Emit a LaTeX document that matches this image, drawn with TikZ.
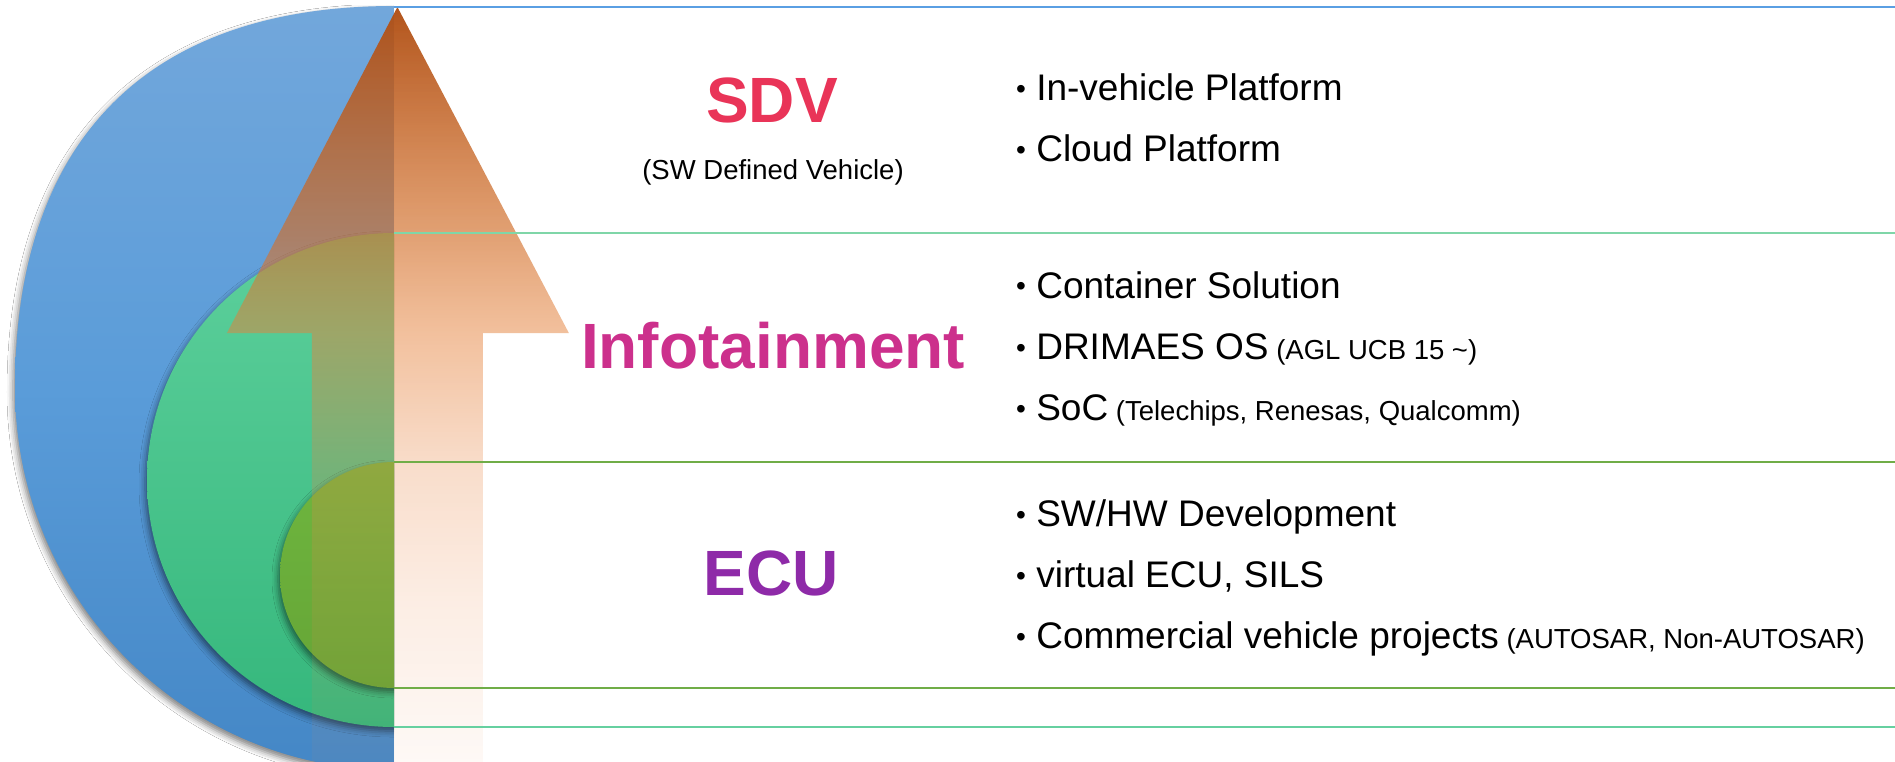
\documentclass[tikz,border=0pt]{standalone}
\usepackage{fontspec}
\setmainfont{Liberation Sans}
\usetikzlibrary{fadings,shadows.blur}

\definecolor{blueTop}{HTML}{72A7DB}
\definecolor{blueMid}{HTML}{5A9CD9}
\definecolor{blueBot}{HTML}{4487C6}
\definecolor{greenTop}{HTML}{5DD09C}
\definecolor{greenBot}{HTML}{35B77C}
\definecolor{oliveTop}{HTML}{6EB63F}
\definecolor{oliveBot}{HTML}{66A536}
\definecolor{sdvred}{HTML}{E93458}
\definecolor{infomag}{HTML}{CC308C}
\definecolor{ecupurple}{HTML}{8E2AA8}
\definecolor{lineblue}{HTML}{5A9FE3}
\definecolor{linemint}{HTML}{7FD6A8}
\definecolor{linegreen}{HTML}{70AD47}
\definecolor{lineteal}{HTML}{66D0A0}

% colour and opacity ramps of the big arrow (bottom to top)
\pgfdeclareverticalshading{arrowcol}{100bp}{%
  rgb(0bp)=(0.94,0.56,0.33); rgb(25bp)=(0.94,0.56,0.33);
  rgb(53.4bp)=(0.90,0.51,0.235); rgb(60bp)=(0.824,0.431,0.157);
  rgb(75bp)=(0.69,0.31,0.08); rgb(100bp)=(0.69,0.31,0.08)}
\pgfdeclareverticalshading{arrowalpha}{100bp}{%
  gray(0bp)=(0.05); gray(25bp)=(0.05); gray(35.7bp)=(0.15);
  gray(44.3bp)=(0.27); gray(53.4bp)=(0.50); gray(60bp)=(0.65);
  gray(75bp)=(0.97); gray(100bp)=(0.97)}
\pgfdeclarefading{arrowfade}{\pgfuseshading{arrowalpha}}

\newcommand\smalltxt[1]{{\fontsize{27.5}{30}\selectfont #1}}
\newcommand\itembullet{{\fontsize{28}{30}\selectfont\raisebox{2pt}{\textbullet}}}

\begin{document}
\begin{tikzpicture}[x=1pt,y=-1pt,
  disc/.style={blur shadow={shadow xshift=-2pt,shadow yshift=-4pt,
      shadow blur radius=6pt,shadow opacity=50}},
  band/.style={line width=2pt},
  title/.style={anchor=base,inner sep=0pt,font=\fontsize{64}{64}\selectfont\bfseries},
  subtitle/.style={anchor=base,inner sep=0pt,font=\fontsize{27.5}{30}\selectfont},
  item/.style={anchor=base west,inner sep=0pt,font=\fontsize{37}{40}\selectfont}]

\useasboundingbox (0,0) rectangle (1895,762);
\fill[white] (0,0) rectangle (1895,762);

% nested half discs
\begin{scope}
  \clip (0,6) rectangle (394,762);
  \path[disc,top color=blueTop,bottom color=blueBot,middle color=blueMid]
    (394,6) .. controls (147.6,6) and (15,139.7) .. (15,388)
    .. controls (15,599) and (184.7,770) .. (394,770) -- cycle;
  \path[disc,top color=greenTop,bottom color=greenBot]
    (394,480) ellipse [x radius=247pt,y radius=247pt];
  \path[disc,top color=oliveTop,bottom color=oliveBot]
    (394,575) ellipse [x radius=114pt,y radius=113pt];
\end{scope}

% rising arrow
\shade[shading=arrowcol,path fading=arrowfade]
  (397.5,7) -- (569,333) -- (483,333) -- (483,762) -- (312,762)
  -- (312,333) -- (227,333) -- cycle;

% band separators
\coordinate (r0a) at (394,7);   \coordinate (r0b) at (1895,7);
\coordinate (r1a) at (394,233); \coordinate (r1b) at (1895,233);
\coordinate (r2a) at (394,462); \coordinate (r2b) at (1895,462);
\coordinate (r3a) at (394,688); \coordinate (r3b) at (1895,688);
\coordinate (r4a) at (394,727); \coordinate (r4b) at (1895,727);
\draw[band,lineblue]   (r0a) -- (r0b);
\draw[band,linemint]   (r1a) -- (r1b);
\draw[band,linegreen]  (r2a) -- (r2b);
\draw[band,linegreen]  (r3a) -- (r3b);
\draw[band,lineteal]   (r4a) -- (r4b);

% tier titles
\node[title,text=sdvred]    (sdv)  at (772,123) {SDV};
\node[subtitle]             (sdvs) at (773,180) {(SW Defined Vehicle)};
\node[title,text=infomag]   (info) at (773,368) {Infotainment};
\node[title,text=ecupurple] (ecu)  at (771,595) {ECU};

% tier contents
\node[item] (s1) at (1016,101) {\itembullet\ In-vehicle Platform};
\node[item] (s2) at (1016,162) {\itembullet\ Cloud Platform};
\node[item] (n1) at (1016,298) {\itembullet\ Container Solution};
\node[item] (n2) at (1016,359) {\itembullet\ DRIMAES OS\smalltxt{ (AGL UCB 15 \textasciitilde)}};
\node[item] (n3) at (1016,420) {\itembullet\ SoC\smalltxt{ (Telechips, Renesas, Qualcomm)}};
\node[item] (e1) at (1016,526) {\itembullet\ SW/HW Development};
\node[item] (e2) at (1016,587) {\itembullet\ virtual ECU, SILS};
\node[item] (e3) at (1016,648) {\itembullet\ Commercial vehicle projects\smalltxt{ (AUTOSAR, Non-AUTOSAR)}};
\end{tikzpicture}
\end{document}
